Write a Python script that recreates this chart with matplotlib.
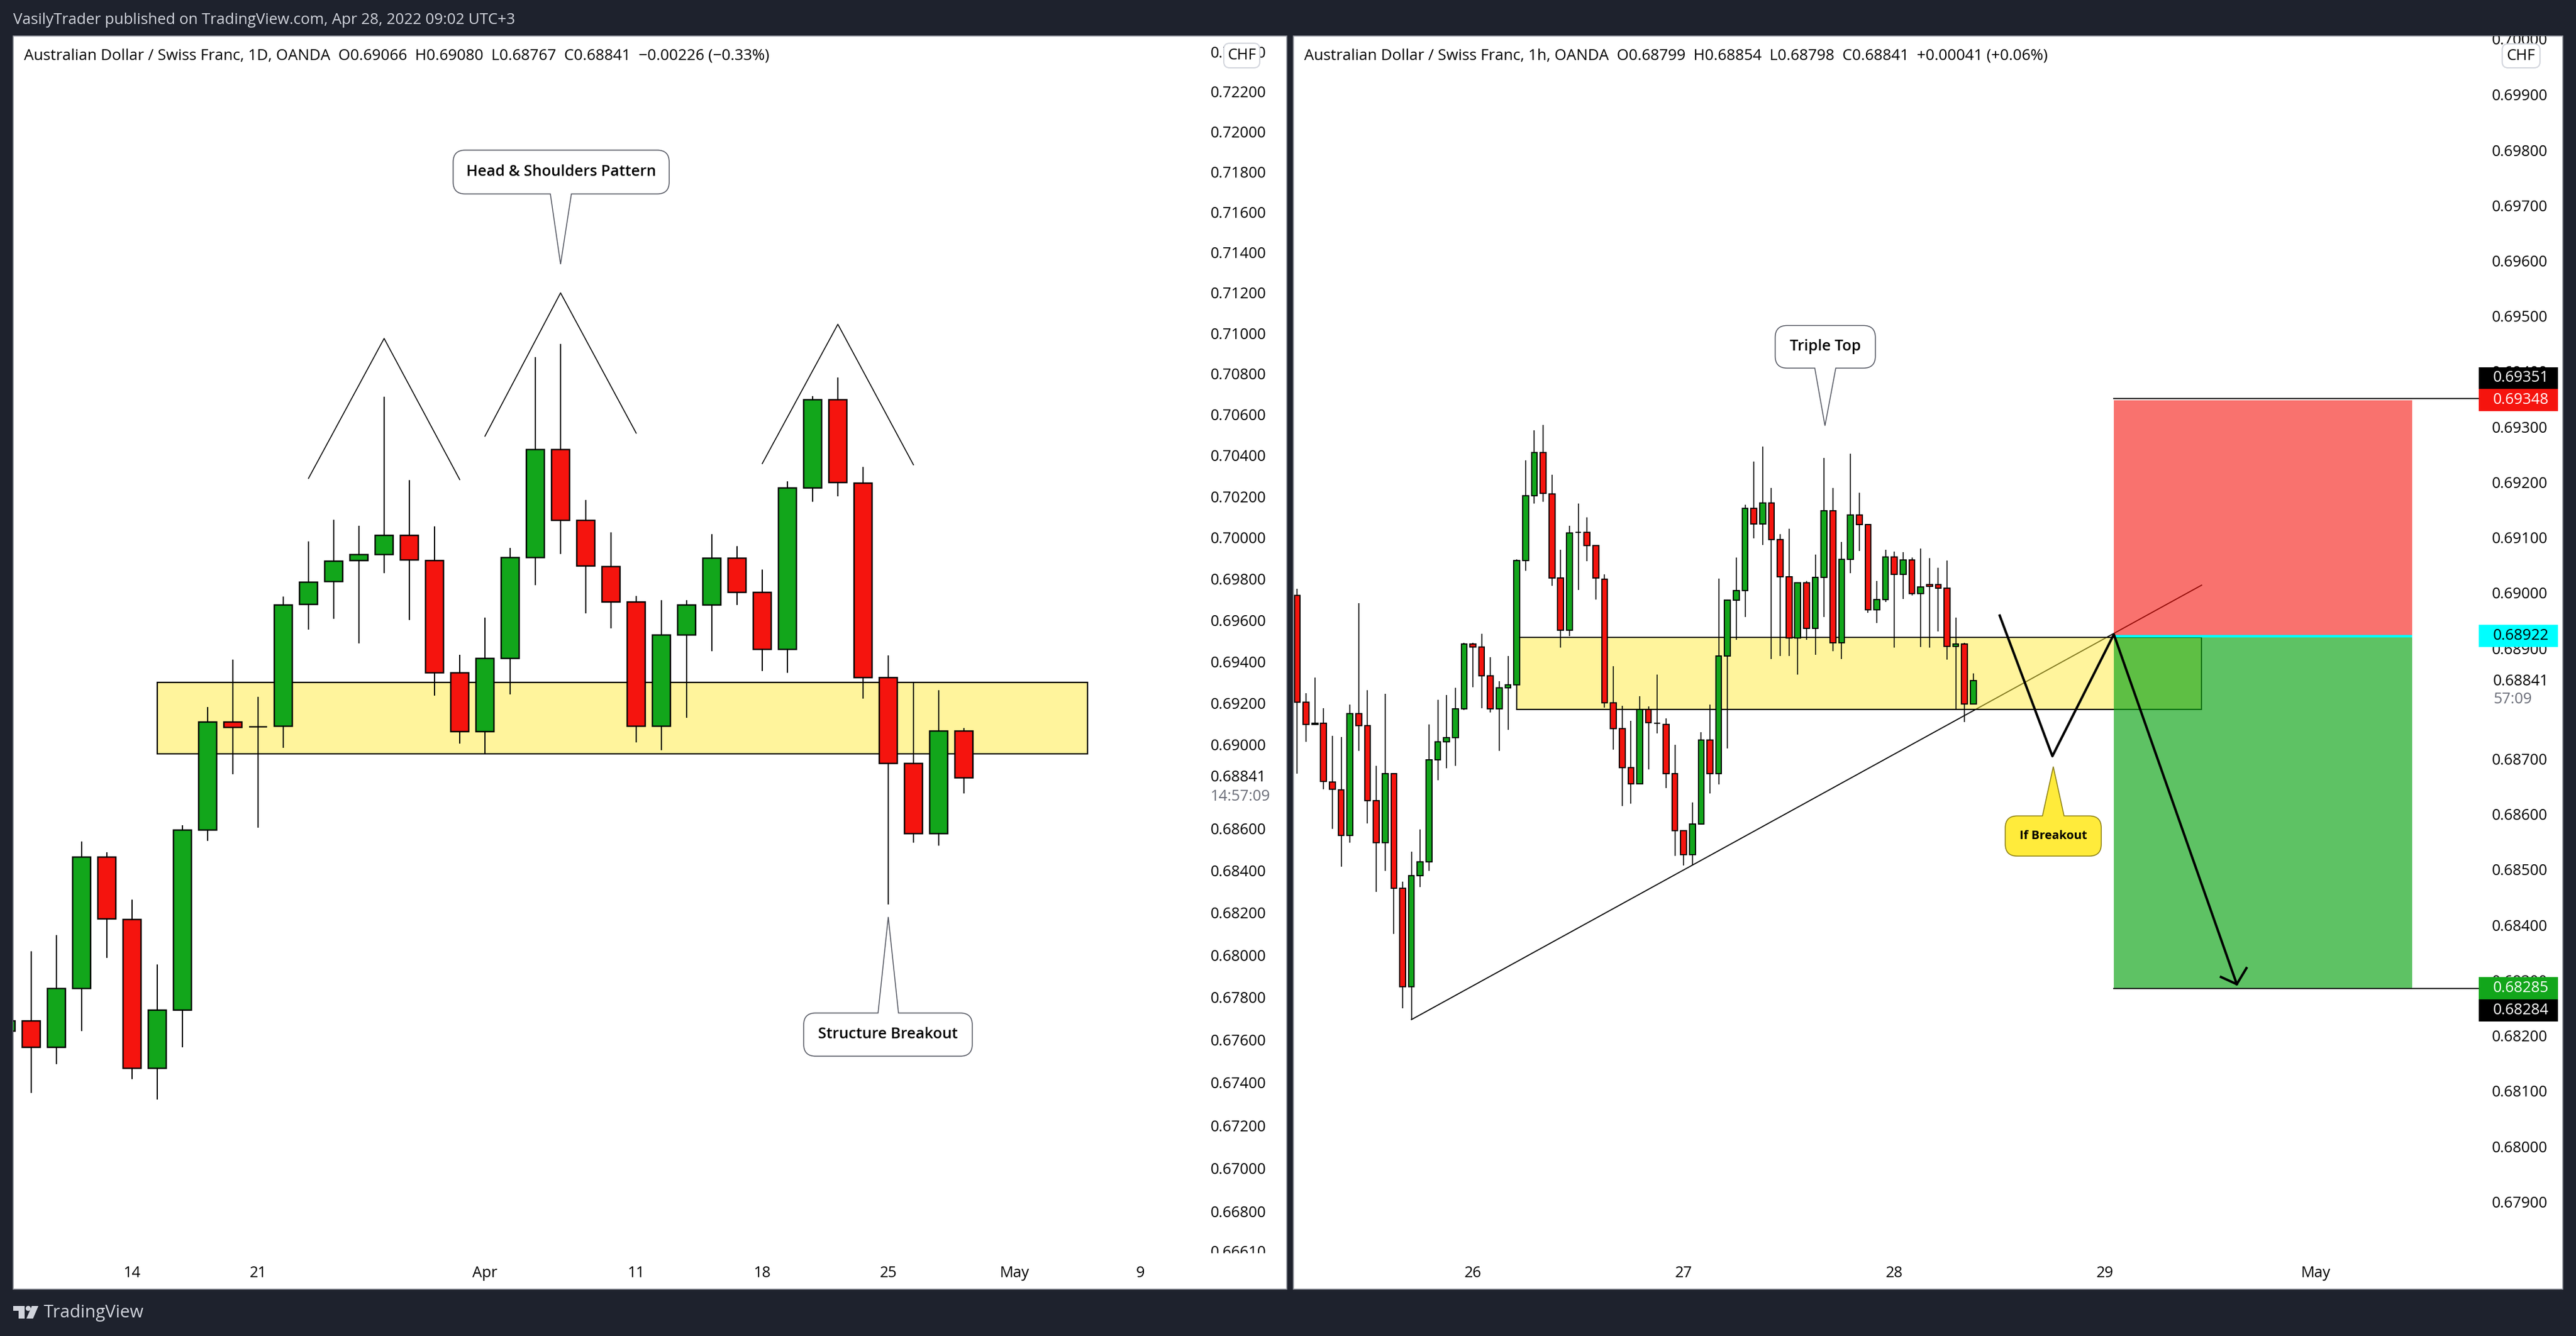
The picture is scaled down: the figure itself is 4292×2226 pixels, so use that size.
import matplotlib
matplotlib.use("Agg")
import matplotlib.pyplot as plt
from matplotlib.patches import Rectangle, PathPatch, FancyBboxPatch, Polygon, Circle
from matplotlib.path import Path
from matplotlib.ticker import FixedLocator, FixedFormatter, NullLocator
from matplotlib.transforms import Affine2D, Bbox

W, H = 4292, 2226
DPI = 100
plt.rcParams['font.family'] = ['Open Sans', 'DejaVu Sans']

# ---------- daily chart data ----------
d1_index = list(range(-5, 34))
d1_open = [.67642,.67691,.67567,.67842,.68464,.68168,.67467,.67740,.68592,.69110,.69086,.69088,.69676,.69786,.69888,.69918,.70010,
           .69888,.69345,.69063,.69415,.69904,.70428,.70082,.69859,.69686,.69088,.69529,.69672,.69900,.69733,.69457,.70241,.70672,
           .70266,.69322,.68910,.68576,.69066]
d1_high = [.67691,.68019,.68093,.68537,.68488,.68262,.67954,.68615,.69182,.69410,.69229,.69714,.69982,.70087,.70058,.70688,.70278,
           .70054,.69433,.69612,.69949,.70882,.70946,.70183,.70025,.69716,.69696,.69696,.70016,.69957,.69845,.70272,.70690,.70783,
           .70344,.69429,.69298,.69261,.69080]
d1_low = [.67642,.67351,.67487,.67642,.67987,.67416,.67320,.67565,.68541,.68859,.68603,.68986,.69553,.69606,.69486,.69827,.69600,
          .69237,.69006,.68957,.69243,.69770,.69920,.69633,.69559,.69010,.68974,.69129,.69449,.69674,.69355,.69347,.70175,.70200,
          .69220,.68238,.68533,.68517,.68767]
d1_close = [.67691,.67567,.67842,.68464,.68170,.67467,.67740,.68592,.69110,.69084,.69086,.69674,.69784,.69886,.69918,.70010,.69890,
            .69345,.69063,.69415,.69904,.70428,.70082,.69861,.69686,.69088,.69529,.69672,.69900,.69733,.69457,.70241,.70672,.70268,
            .69322,.68910,.68576,.69065,.68841]
d1_ticks = [.724,.722,.72,.718,.716,.714,.712,.71,.708,.706,.704,.702,.70,.698,.696,.694,.692,.69,.686,.684,.682,.68,.678,.676,.674,.672,.67,.668]
d1_date_pos = [0, 5, 14, 20, 25, 30, 35, 40]
d1_date_lab = ['14', '21', 'Apr', '11', '18', '25', 'May', '9']

# ---------- hourly chart data ----------
h1_index = list(range(-20, 58))
h1_open = [.68995,.68803,.68762,.68765,.68658,.68644,.68562,.68782,.68760,.68625,.68549,.68673,.68466,.68289,.68489,.68514,.68698,.68731,.68738,.68791,
           .68908,.68902,.68850,.68791,.68829,.68834,.69058,.69176,.69254,.69179,.69027,.68933,.69109,.69109,.69085,.69025,.68801,.68755,.68684,.68655,
           .68789,.68764,.68762,.68673,.68570,.68527,.68582,.68734,.68673,.68886,.68987,.69004,.69153,.69125,.69162,.69096,.69029,.68919,.69018,.68936,
           .69028,.69148,.68910,.69061,.69141,.69123,.68969,.68988,.69065,.69034,.69059,.68999,.69015,.69015,.69008,.68903,.68908,.68799]
h1_high = [.69007,.68819,.68847,.68792,.68742,.68740,.68798,.68981,.68824,.68687,.68818,.68674,.68478,.68533,.68573,.68762,.68807,.68816,.68828,.68910,
           .68910,.68926,.68884,.68840,.68886,.69061,.69239,.69294,.69303,.69213,.69078,.69121,.69161,.69137,.69086,.69034,.68868,.68796,.68769,.68813,
           .68795,.68852,.68773,.68726,.68571,.68621,.68748,.68798,.69026,.68988,.69064,.69159,.69237,.69264,.69190,.69106,.69116,.69019,.69022,.69069,
           .69244,.69190,.69092,.69251,.69181,.69124,.69021,.69078,.69075,.69074,.69064,.69080,.69063,.69045,.69058,.68955,.68910,.68854]
h1_low = [.68673,.68731,.68761,.68645,.68574,.68505,.68549,.68715,.68583,.68460,.68498,.68384,.68249,.68229,.68469,.68498,.68662,.68683,.68687,.68788,
          .68830,.68792,.68784,.68715,.68753,.68833,.69040,.69161,.69165,.69013,.68901,.68922,.69005,.69057,.68988,.68793,.68717,.68615,.68619,.68654,
          .68681,.68746,.68647,.68525,.68507,.68509,.68581,.68638,.68654,.68719,.68915,.68957,.69099,.69087,.68881,.68886,.68886,.68852,.68915,.68888,
          .68957,.68895,.68881,.69036,.69076,.68964,.68946,.68984,.68901,.68989,.68996,.68902,.68901,.68930,.68879,.68791,.68767,.68798]
h1_close = [.68803,.68762,.68765,.68659,.68645,.68562,.68782,.68760,.68625,.68549,.68673,.68466,.68289,.68489,.68514,.68698,.68731,.68738,.68791,.68908,
            .68902,.68850,.68791,.68828,.68834,.69058,.69176,.69254,.69180,.69027,.68933,.69108,.69109,.69085,.69027,.68801,.68755,.68684,.68655,.68789,
            .68766,.68764,.68673,.68570,.68527,.68582,.68734,.68673,.68886,.68987,.69004,.69153,.69125,.69162,.69096,.69029,.68919,.69018,.68936,.69028,
            .69148,.68910,.69061,.69141,.69123,.68969,.68988,.69065,.69034,.69059,.68999,.69011,.69012,.69009,.68903,.68908,.68799,.68841]
h1_ticks = [.699,.698,.697,.696,.695,.694,.693,.692,.691,.69,.689,.687,.686,.685,.684,.683,.682,.681,.68,.679]
h1_date_pos = [0, 24, 48, 72, 96]
h1_date_lab = ['26', '27', '28', '29', 'May']

UP, DOWN = '#12A61B', '#F5140E'
DARK = '#1E222D'
TXT = '#000000'
FS = 18.2
FS_HEAD = 18.45

px = Affine2D().scale(1, -1).translate(0, H)   # pixel coordinates, origin top-left

fig = plt.figure(figsize=(W / DPI, H / DPI), dpi=DPI, facecolor=DARK)


def panel(x0, y0, x1, y1):
    fig.add_artist(Rectangle((x0, y0), x1 - x0, y1 - y0, transform=px, facecolor='white',
                             edgecolor='#8f929b', lw=1.2, zorder=-5))


def make_axes(x0, y0, x1, y1):
    ax = fig.add_axes([x0 / W, 1 - y1 / H, (x1 - x0) / W, (y1 - y0) / H], facecolor='none')
    for s in ax.spines.values():
        s.set_visible(False)
    return ax


def candles(ax, idx, o, h, l, c, width, wick):
    ax.vlines(idx, l, h, color='black', lw=wick, zorder=3)
    colors = [UP if cc >= oo else DOWN for oo, cc in zip(o, c)]
    bottoms = [min(a, b) for a, b in zip(o, c)]
    heights = [abs(a - b) for a, b in zip(o, c)]
    ax.bar(idx, heights, width=width, bottom=bottoms, color=colors, edgecolor='black', lw=wick * 1.2, zorder=3.5)


def axis_style(ax, ticks, pos, labs, xlim, ylim):
    ax.set_xlim(*xlim)
    ax.set_ylim(*ylim)
    ax.yaxis.tick_right()
    ax.yaxis.set_major_locator(FixedLocator(ticks))
    ax.yaxis.set_minor_locator(NullLocator())
    ax.yaxis.set_major_formatter(FixedFormatter([f'{t:.5f}' for t in ticks]))
    ax.yaxis.set_minor_formatter(FixedFormatter([]))
    ax.set_xticks(pos, labs)
    ax.tick_params(axis='both', which='both', length=0, labelsize=FS, labelcolor=TXT)
    ax.tick_params(axis='y', pad=15.8)
    ax.tick_params(axis='x', pad=15)


def callout(ax, x, price, box, base, text, face='white', edge='#50535e', fs=FS, weight='semibold', r=20):
    tx, ty = ax.transData.transform((x, price))
    ty = H - ty
    dx0, dy0, dx1, dy1 = box
    x0, x1, y0, y1 = tx + dx0, tx + dx1, ty + dy0, ty + dy1
    bx0, bx1 = tx + base[0], tx + base[1]
    C3, L2 = Path.CURVE3, Path.LINETO
    v = [(x0 + r, y0)]; c = [Path.MOVETO]
    if dy0 > 0:
        v += [(bx0, y0), (tx, ty), (bx1, y0)]; c += [L2, L2, L2]
    v += [(x1 - r, y0), (x1, y0), (x1, y0 + r), (x1, y1 - r), (x1, y1), (x1 - r, y1)]
    c += [L2, C3, C3, L2, C3, C3]
    if dy0 < 0:
        v += [(bx1, y1), (tx, ty), (bx0, y1)]; c += [L2, L2, L2]
    v += [(x0 + r, y1), (x0, y1), (x0, y1 - r), (x0, y0 + r), (x0, y0), (x0 + r, y0)]
    c += [L2, C3, C3, L2, C3, C3]
    fig.add_artist(PathPatch(Path(v, c), transform=px, facecolor=face, edgecolor=edge, lw=1.1, zorder=6))
    fig.text((x0 + x1) / 2, (y0 + y1) / 2, text, transform=px, ha='center', va='center', fontsize=fs,
             color='black', weight=weight, zorder=7)


def chf(x0, y0, x1, y1):
    fig.add_artist(FancyBboxPatch((x0 + 8, y0 + 8), x1 - x0 - 16, y1 - y0 - 16, boxstyle='round,pad=8,rounding_size=10',
                                  transform=px, facecolor='white', edgecolor='#d1d4dc', lw=1.4, zorder=6))
    fig.text((x0 + x1) / 2, (y0 + y1) / 2, 'CHF', transform=px, ha='center', va='center', fontsize=FS, color='black', zorder=7)


def badge(y0, y1, text, bg, fg):
    fig.add_artist(Rectangle((4130, y0), 132, y1 - y0, transform=px, facecolor=bg, edgecolor='none', zorder=6))
    fig.text(4154, (y0 + y1) / 2, text, transform=px, ha='left', va='center', fontsize=FS, color=fg, zorder=7)


panel(22, 60, 2144, 2148)
panel(2155, 60, 4270, 2148)

# ================= left chart =================
ax1 = make_axes(22, 62, 1995, 2088)
ax1.set_yscale('log')
axis_style(ax1, d1_ticks, d1_date_pos, d1_date_lab, (-4.714, 42.262), (.66607, .72474))
ax1.add_patch(Rectangle((1, .68957), 36.9, .69298 - .68957, facecolor=(1, .922, .231, .5), edgecolor='black', lw=1.6, zorder=2))
candles(ax1, d1_index, d1_open, d1_high, d1_low, d1_close, .70, 1.45)
ax1.plot([7, 10, 13], [.70288, .70974, .70282], color='black', lw=1.15, zorder=5)
ax1.plot([14, 17, 20], [.70494, .71199, .70509], color='black', lw=1.15, zorder=5)
ax1.plot([25, 28, 31], [.70360, .71044, .70354], color='black', lw=1.15, zorder=5)
callout(ax1, 17, .71341, (-179, -190, 181, -117), (-17, 18), 'Head & Shoulders Pattern')
callout(ax1, 30, .68180, (-141, 160, 140, 232), (-17, 17), 'Structure Breakout')
clip1 = Bbox([[0, H - 2088], [W, H - 60]])
t = fig.text(2017, 2088, '0.66610', transform=px, ha='left', va='center', fontsize=FS, color=TXT, zorder=7)
t.set_clip_box(clip1); t.set_clip_on(True)
fig.text(2017, 1296, '0.68841', transform=px, ha='left', va='center', fontsize=FS, color=TXT, zorder=7)
fig.text(2017, 1327, '14:57:09', transform=px, ha='left', va='center', fontsize=FS, color='#6a6d78', zorder=7)
chf(2039, 72, 2099, 113)

# ================= right chart =================
ax2 = make_axes(2155, 62, 4130, 2088)
axis_style(ax2, h1_ticks, h1_date_pos, h1_date_lab, (-20.44, 114.56), (.67807, .70004))
ax2.plot([-7, 83], [.68229, .69014], color='black', lw=1.3, zorder=1)
ax2.add_patch(Rectangle((5, .68790), 78, .68920 - .68790, facecolor=(1, .922, .231, .5), edgecolor='black', lw=1.5, zorder=2))
candles(ax2, h1_index, h1_open, h1_high, h1_low, h1_close, .66, 1.15)
ax2.add_patch(Rectangle((73, .68922), 34, .69348 - .68922, facecolor=DOWN, alpha=.6, edgecolor='none', zorder=4))
ax2.add_patch(Rectangle((73, .68285), 34, .68922 - .68285, facecolor=UP, alpha=.68, edgecolor='none', zorder=4))
ax2.plot([73, 107], [.68922, .68922], color='#00FFFF', lw=3, zorder=5, solid_capstyle='butt')
ax2.plot([73, 114.56], [.69351, .69351], color='black', lw=1.5, zorder=5)
ax2.plot([73, 114.56], [.68285, .68285], color='black', lw=1.5, zorder=5)
ax2.plot([60, 66, 73, 87], [.68959, .68705, .68925, .68293], color='black', lw=2.9, zorder=6)
ax2.plot([85.2, 87, 88.1], [.68306, .68293, .68322], color='black', lw=2.9, zorder=6)
callout(ax2, 40.1, .69302, (-83, -167, 84, -96), (-17, 18), 'Triple Top')
callout(ax2, 66.1, .68686, (-80, 82, 80, 149), (-18, 18), 'If Breakout', face='#FFEB3B', edge='#8a7d10', fs=14.5, weight='bold')
t = fig.text(4152, 67, '0.70000', transform=px, ha='left', va='center', fontsize=FS, color=TXT, zorder=5)
t.set_clip_box(Bbox([[0, 0], [W, H - 60]])); t.set_clip_on(True)
fig.text(4154, 1135, '0.68841', transform=px, ha='left', va='center', fontsize=FS, color=TXT, zorder=7)
fig.text(4154, 1165, '57:09', transform=px, ha='left', va='center', fontsize=FS, color='#6a6d78', zorder=7)
badge(612, 648, '0.69351', 'black', 'white')
badge(648, 685, '0.69348', DOWN, 'white')
badge(1041, 1078, '0.68922', '#00FFFF', 'black')
badge(1628, 1665, '0.68285', UP, 'white')
badge(1665, 1702, '0.68284', 'black', 'white')
chf(4169, 73, 4232, 113)

# ================= page text =================
fig.text(22, 34, 'VasilyTrader published on TradingView.com, Apr 28, 2022 09:02 UTC+3', transform=px,
         ha='left', va='center', fontsize=18.35, color='#d1d4dc', zorder=7)
fig.text(40, 93, 'Australian Dollar / Swiss Franc, 1D, OANDA  O0.69066  H0.69080  L0.68767  C0.68841  \u22120.00226 (\u22120.33%)',
         transform=px, ha='left', va='center', fontsize=FS_HEAD, color='black', zorder=7)
fig.text(2173, 93, 'Australian Dollar / Swiss Franc, 1h, OANDA  O0.68799  H0.68854  L0.68798  C0.68841  +0.00041 (+0.06%)',
         transform=px, ha='left', va='center', fontsize=FS_HEAD, color='black', zorder=7)

# logo and brand
fig.add_artist(Polygon([(22, 2176), (41, 2176), (41, 2197), (31, 2197), (31, 2184), (22, 2184)], transform=px, facecolor='#d1d4dc', edgecolor='none'))
fig.add_artist(Circle((47, 2180), 4.2, transform=px, facecolor='#d1d4dc', edgecolor='none'))
fig.add_artist(Polygon([(53, 2176), (64, 2176), (55, 2197), (44, 2197)], transform=px, facecolor='#d1d4dc', edgecolor='none'))
fig.text(73, 2188, 'TradingView', transform=px, ha='left', va='center', fontsize=21, color='#d1d4dc', zorder=7)

fig.savefig('out.png', dpi=DPI, facecolor=DARK)
